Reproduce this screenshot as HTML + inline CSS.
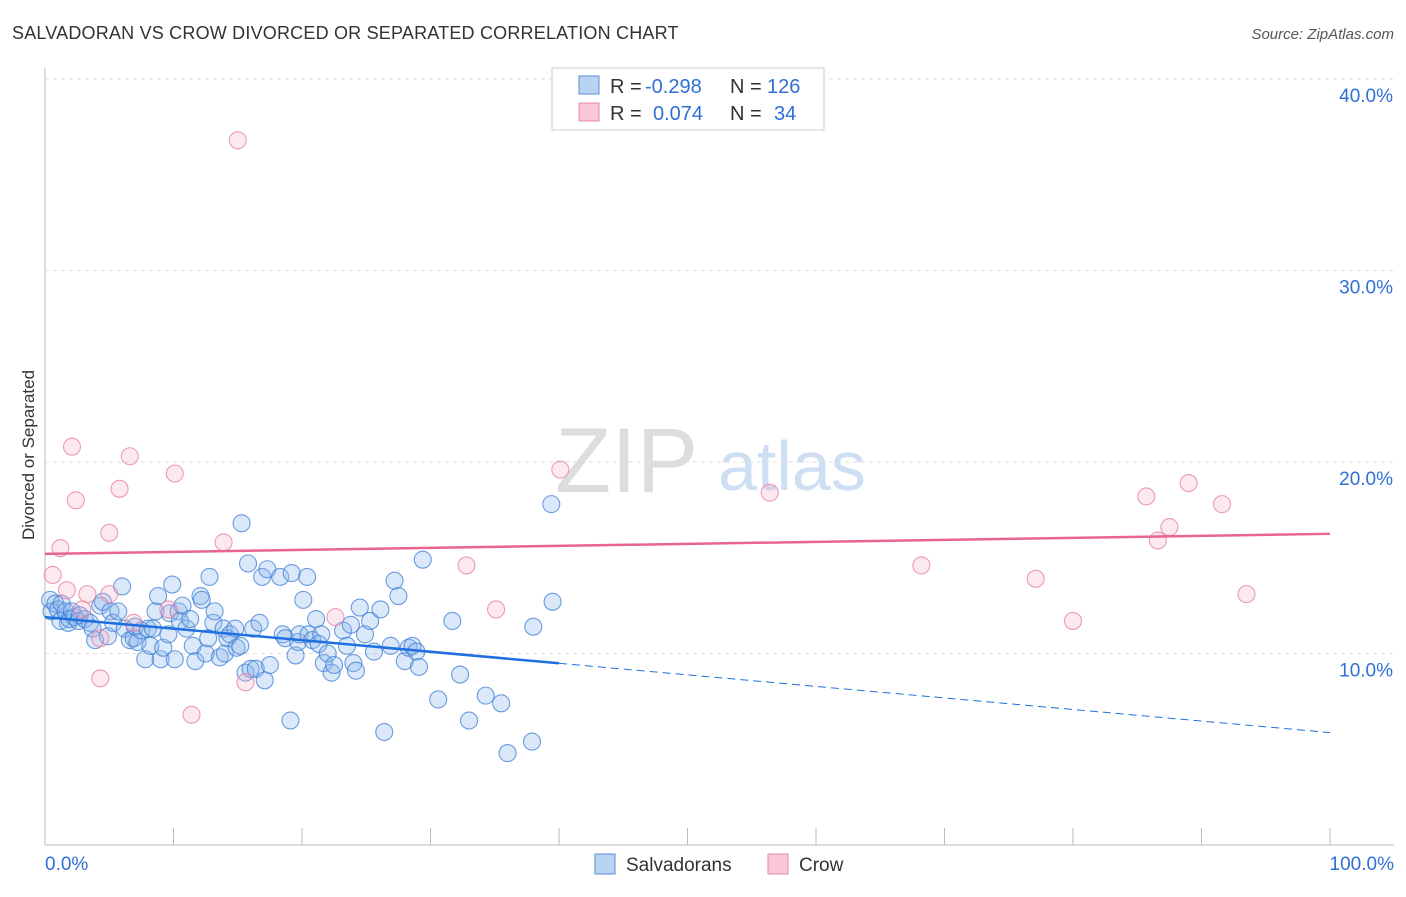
<!DOCTYPE html>
<html><head><meta charset="utf-8"><style>
body{margin:0;background:#fff;font-family:"Liberation Sans",sans-serif}
svg text{font-family:"Liberation Sans",sans-serif}
</style></head><body>
<svg id="c" width="1406" height="892">
<text x="12" y="39" font-size="18" letter-spacing="0.2" fill="#333">SALVADORAN VS CROW DIVORCED OR SEPARATED CORRELATION CHART</text>
<text x="1394" y="39" font-size="15" fill="#555" font-style="italic" text-anchor="end">Source: ZipAtlas.com</text>
<text x="34" y="455" font-size="17" fill="#333" transform="rotate(-90 34 455)" text-anchor="middle">Divorced or Separated</text>
<text x="555" y="492" font-size="92" fill="#ddd" font-family="Liberation Serif">ZIP</text>
<text x="718" y="490" font-size="70" fill="#cfdff3">atlas</text>
<g id="grid"></g><g id="pts"></g><g id="lines"></g>
<g>
<rect x="552" y="68" width="272" height="62" fill="#fff" stroke="#ccc"/>
<rect x="579" y="76" width="20" height="18" fill="#b9d3f3" stroke="#5b8fd8"/>
<rect x="579" y="103" width="20" height="18" fill="#f9c7d5" stroke="#e88aa6"/>
<text x="610" y="93" font-size="20" fill="#333">R =</text>
<text x="645" y="93" font-size="20" fill="#2f6fd6">-0.298</text>
<text x="730" y="93" font-size="20" fill="#333">N =</text>
<text x="767" y="93" font-size="20" fill="#2f6fd6">126</text>
<text x="610" y="120" font-size="20" fill="#333">R =</text>
<text x="653" y="120" font-size="20" fill="#2f6fd6">0.074</text>
<text x="730" y="120" font-size="20" fill="#333">N =</text>
<text x="774" y="120" font-size="20" fill="#2f6fd6">34</text>
</g>
<g>
<rect x="595" y="854" width="20" height="20" fill="#b9d3f3" stroke="#5b8fd8"/>
<text x="626" y="871" font-size="19" fill="#333">Salvadorans</text>
<rect x="768" y="854" width="20" height="20" fill="#f9c7d5" stroke="#e88aa6"/>
<text x="799" y="871" font-size="19" fill="#333">Crow</text>
</g>
</svg>
<script>
const yTicks=[10,20,30,40];
const xTickLabels=["0.0%","100.0%"];
const blueX=[0.4,0.5,0.8,1,1.2,1.3,1.6,1.8,1.9,2.1,2.3,2.6,2.7,3.1,3.5,3.7,3.9,4.3,4.5,4.9,5.1,5.3,5.7,6,6.2,6.6,6.9,7,7.2,7.5,7.8,8,8.2,8.4,8.6,8.8,9,9.2,9.6,9.7,9.9,10.1,10.4,10.5,10.7,11,11.3,11.5,11.7,12.1,12.2,12.5,12.7,12.8,13.1,13.2,13.6,13.9,14,14.2,14.4,14.8,14.9,15.2,15.3,15.6,15.8,16,16.2,16.4,16.7,16.9,17.1,17.3,17.5,18.3,18.5,18.7,19.1,19.2,19.5,19.7,19.8,20.1,20.4,20.5,20.8,21.1,21.3,21.5,21.7,22,22.3,22.5,23.2,23.5,23.8,24,24.2,24.5,24.9,25.3,25.6,26.1,26.4,26.9,27.2,27.5,28,28.3,28.6,28.9,29.1,29.4,30.6,31.7,32.3,33,34.3,35.5,36,37.9,39.4,38,39.5];
const blueY=[12.8,12.2,12.6,12.3,11.7,12.6,12.2,11.6,11.8,12.2,11.9,11.7,12,11.8,11.6,11.3,10.7,12.5,12.7,10.9,12.2,11.6,12.2,13.5,11.3,10.7,10.8,11.4,10.6,11.2,9.7,11.3,10.4,11.3,12.2,13,9.7,10.3,11,12.1,13.6,9.7,12.2,11.7,12.5,11.3,11.8,10.4,9.6,13,12.8,10.0,10.8,14.0,11.6,12.2,9.8,11.3,10.0,10.8,11.0,11.3,10.3,10.4,16.8,9.0,14.7,9.2,11.3,9.2,11.6,14.0,8.6,14.4,9.4,14.0,11.0,10.8,6.5,14.2,9.9,10.6,11.0,12.8,14.0,11.0,10.7,11.8,10.5,11.0,9.5,10.0,9.0,9.4,11.2,10.4,11.5,9.5,9.1,12.4,11.0,11.7,10.1,12.3,5.9,10.4,13.8,13.0,9.6,10.3,10.4,10.1,9.3,14.9,7.6,11.7,8.9,6.5,7.8,7.4,4.8,5.4,17.8,11.4,12.7];
const pinkX=[15,2.1,6.6,10.1,2.4,5.8,5,1.2,13.9,0.6,1.7,3.3,5,2.9,4.3,6.9,9.6,22.6,4.3,11.4,15.6,32.8,35.1,40.1,56.4,68.2,77.1,80,85.7,87.5,86.6,89,91.6,93.5];
const pinkY=[36.8,20.8,20.3,19.4,18,18.6,16.3,15.5,15.8,14.1,13.3,13.1,13.1,12.3,10.8,11.6,12.3,11.9,8.7,6.8,8.5,14.6,12.3,19.6,18.4,14.6,13.9,11.7,18.2,16.6,15.9,18.9,17.8,13.1];
const X=v=>45+v*12.85, Y=v=>845-v*19.15;
const NS="http://www.w3.org/2000/svg";
function mk(t,a,p){const e=document.createElementNS(NS,t);for(const k in a)e.setAttribute(k,a[k]);p.appendChild(e);return e;}
const g=document.getElementById('grid');
mk('line',{x1:45,y1:68,x2:45,y2:845,stroke:'#bbb'},g);
mk('line',{x1:45,y1:845,x2:1394,y2:845,stroke:'#bbb'},g);
for(const t of yTicks){
 const l=mk('line',{x1:45,y1:Y(t),x2:1394,y2:Y(t),stroke:'#ddd','stroke-dasharray':'4,4'},g);
 
 
 const tx=mk('text',{x:1393,y:Y(t)+23,'font-size':19,fill:'#2f6fd6','text-anchor':'end'},g);
 tx.textContent=t.toFixed(1)+'%';
 
 
}
for(let i=0;i<=10;i++){mk('line',{x1:X(i*10),y1:828,x2:X(i*10),y2:845,stroke:'#bbb'},g);}
const a=mk('text',{x:45,y:870,'font-size':19,fill:'#2f6fd6'},g);a.textContent=xTickLabels[0];


const b=mk('text',{x:1394,y:870,'font-size':19,fill:'#2f6fd6','text-anchor':'end'},g);b.textContent=xTickLabels[1];


const p=document.getElementById('pts');
const nB=Math.min(blueX.length,blueY.length);
for(let i=0;i<nB;i++){const c=mk('circle',{cx:X(blueX[i]),cy:Y(blueY[i]),r:8.5,fill:'rgba(140,185,235,0.32)',stroke:'rgba(60,125,215,0.75)','stroke-width':1.1},p);
 
 }
pinkX.forEach((v,i)=>{const c=mk('circle',{cx:X(v),cy:Y(pinkY[i]),r:8.5,fill:'rgba(245,175,200,0.28)',stroke:'rgba(232,130,165,0.8)','stroke-width':1.1},p);
 
 });
const L=document.getElementById('lines');
const bl=v=>11.9-0.0603*v, pl=v=>15.2+0.0105*v;
const l1=mk('line',{x1:X(0),y1:Y(bl(0)),x2:X(40),y2:Y(bl(40)),stroke:'#1f6fe0','stroke-width':2.5},L);


const l2=mk('line',{x1:X(40),y1:Y(bl(40)),x2:X(100),y2:Y(bl(100)),stroke:'#1f6fe0','stroke-width':1,'stroke-dasharray':'8,5'},L);


const l3=mk('line',{x1:X(0),y1:Y(pl(0)),x2:X(100),y2:Y(pl(100)),stroke:'#e8668e','stroke-width':2.5},L);


</script>
</body></html>
